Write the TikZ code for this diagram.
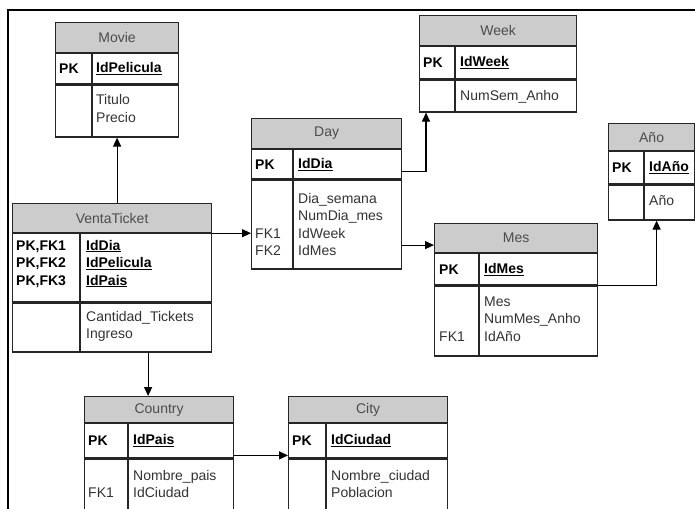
\documentclass[tikz,border=0pt]{standalone}
\usepackage{fontspec}
\setmainfont{Liberation Sans}
\usetikzlibrary{arrows.meta}
\newcommand{\llave}[1]{\underline{\textbf{#1}}}

\begin{document}
\begin{tikzpicture}[x=1pt,y=-1pt,>={Triangle[length=9pt,width=8pt]},
font=\fontsize{14}{17.5}\selectfont,
borde/.style={line width=1.2pt,draw=black!85},
cabecera/.style={borde,fill=black!20,anchor=north west,inner sep=0pt,text=black!70},
fila/.style={borde,fill=white,anchor=north west,inner sep=0pt},
clave/.style={anchor=west,inner sep=0pt,font=\fontsize{14}{17.5}\selectfont\bfseries},
campo/.style={anchor=base west,inner sep=0pt,align=left,text=black!80},
conector/.style={->,line width=1.2pt}]

\clip (0,0) rectangle (695,508);
\fill[white] (0,0) rectangle (695,508);
\draw[line width=1.2pt] (8,520)--(8,10)--(700,10);

% Movie
\node[cabecera,minimum width=123pt,minimum height=30pt](movie) at (55,22){Movie};
\node[fila,minimum width=123pt,minimum height=30pt](movie-pk) at (movie.south west){};
\node[fila,minimum width=123pt,minimum height=52pt](movie-at) at (movie-pk.south west){};
\draw[borde] ([xshift=37pt]movie-pk.north west)--([xshift=37pt]movie-at.south west);
\node[clave](movie-k) at ([xshift=4pt]movie-pk.west){PK};
\node[clave](movie-id) at ([xshift=41pt]movie-pk.west){\llave{IdPelicula}};
\node[campo](movie-f) at (96,122.5){Titulo\\Precio};

% Week
\node[cabecera,minimum width=157pt,minimum height=30pt](week) at (419,15){Week};
\node[fila,minimum width=157pt,minimum height=32pt](week-pk) at (week.south west){};
\node[fila,minimum width=157pt,minimum height=32pt](week-at) at (week-pk.south west){};
\draw[borde] ([xshift=36pt]week-pk.north west)--([xshift=36pt]week-at.south west);
\node[clave](week-k) at ([xshift=4pt]week-pk.west){PK};
\node[clave](week-id) at ([xshift=41pt]week-pk.west){\llave{IdWeek}};
\node[campo](week-f) at (460,100){NumSem\_Anho};

% Day
\node[cabecera,minimum width=150pt,minimum height=30pt](day) at (251,118){Day};
\node[fila,minimum width=150pt,minimum height=29pt](day-pk) at (day.south west){};
\node[fila,minimum width=150pt,minimum height=89pt](day-at) at (day-pk.south west){};
\draw[borde] ([xshift=42pt]day-pk.north west)--([xshift=42pt]day-at.south west);
\node[clave](day-k) at ([xshift=4pt]day-pk.west){PK};
\node[clave](day-id) at ([xshift=47pt]day-pk.west){\llave{IdDia}};
\node[campo](day-fk) at (255,255.5){FK1\\FK2};
\node[campo](day-f) at (298,255.5){Dia\_semana\\NumDia\_mes\\IdWeek\\IdMes};

% Año
\node[cabecera,minimum width=86pt,minimum height=27pt](anio) at (608,123){Año};
\node[fila,minimum width=86pt,minimum height=32pt](anio-pk) at (anio.south west){};
\node[fila,minimum width=86pt,minimum height=35pt](anio-at) at (anio-pk.south west){};
\draw[borde] ([xshift=36pt]anio-pk.north west)--([xshift=36pt]anio-at.south west);
\node[clave](anio-k) at ([xshift=4pt]anio-pk.west){PK};
\node[clave](anio-id) at ([xshift=41pt]anio-pk.west){\llave{IdAño}};
\node[campo](anio-f) at (649,205){Año};

% Mes
\node[cabecera,minimum width=163pt,minimum height=29pt](mes) at (434,223){Mes};
\node[fila,minimum width=163pt,minimum height=31pt](mes-pk) at (mes.south west){};
\node[fila,minimum width=163pt,minimum height=70pt](mes-at) at (mes-pk.south west){};
\draw[borde] ([xshift=45pt]mes-pk.north west)--([xshift=45pt]mes-at.south west);
\node[clave](mes-k) at ([xshift=5pt]mes-pk.west){PK};
\node[clave](mes-id) at ([xshift=50pt]mes-pk.west){\llave{IdMes}};
\node[campo](mes-fk) at (439,341){FK1};
\node[campo](mes-f) at (484,341){Mes\\NumMes\_Anho\\IdAño};

% VentaTicket
\node[cabecera,minimum width=199pt,minimum height=29pt](venta) at (12,203){VentaTicket};
\node[fila,minimum width=199pt,minimum height=68pt](venta-pk) at (venta.south west){};
\node[fila,minimum width=199pt,minimum height=49pt](venta-at) at (venta-pk.south west){};
\draw[borde] ([xshift=68pt]venta-pk.north west)--([xshift=68pt]venta-at.south west);
\node[campo,font=\fontsize{14}{17.5}\selectfont\bfseries,text=black](venta-k) at (16,285){PK,FK1\\PK,FK2\\PK,FK3};
\node[campo,text=black](venta-id) at (86,285){\llave{IdDia}\\\llave{IdPelicula}\\\llave{IdPais}};
\node[campo](venta-f) at (86,338.5){Cantidad\_Tickets\\Ingreso};

% Country
\node[cabecera,minimum width=149pt,minimum height=26pt](country) at (84,396){Country};
\node[fila,minimum width=149pt,minimum height=34pt](country-pk) at (country.south west){};
\node[fila,minimum width=149pt,minimum height=70pt](country-at) at (country-pk.south west){};
\draw[borde] ([xshift=44pt]country-pk.north west)--([xshift=44pt]country-at.south west);
\node[clave](country-k) at ([xshift=4pt]country-pk.west){PK};
\node[clave](country-id) at ([xshift=49pt]country-pk.west){\llave{IdPais}};
\node[campo](country-fk) at (88,497.5){FK1};
\node[campo](country-f) at (133,497.5){Nombre\_pais\\IdCiudad};

% City
\node[cabecera,minimum width=159pt,minimum height=26pt](city) at (288,396){City};
\node[fila,minimum width=159pt,minimum height=34pt](city-pk) at (city.south west){};
\node[fila,minimum width=159pt,minimum height=70pt](city-at) at (city-pk.south west){};
\draw[borde] ([xshift=38pt]city-pk.north west)--([xshift=38pt]city-at.south west);
\node[clave](city-k) at ([xshift=4pt]city-pk.west){PK};
\node[clave](city-id) at ([xshift=43pt]city-pk.west){\llave{IdCiudad}};
\node[campo](city-f) at (331,497.5){Nombre\_ciudad\\Poblacion};

% relaciones
\coordinate (a-movie) at (movie-at.south);
\coordinate (a-week) at ([xshift=7pt]week-at.south west);
\coordinate (a-mes) at ([yshift=-7pt]mes.west);
\coordinate (a-anio) at ([xshift=5pt]anio-at.south);
\coordinate (a-country) at ([xshift=-11pt]country.north);
\coordinate (a-city) at ([yshift=3pt]country-pk.south east -| city-pk.west);

\draw[conector] (venta.north -| a-movie)--(a-movie);
\draw[conector] (venta.south east)--(venta.south east -| day-at.west);
\draw[conector] ([yshift=8pt]day-pk.south east)-|(a-week);
\draw[conector] (day-at.east |- a-mes)--(a-mes);
\draw[conector] (mes-pk.south east)-|(a-anio);
\draw[conector] (venta-at.south -| a-country)--(a-country);
\draw[conector] (country-pk.east |- a-city)--(a-city);

\end{tikzpicture}
\end{document}
